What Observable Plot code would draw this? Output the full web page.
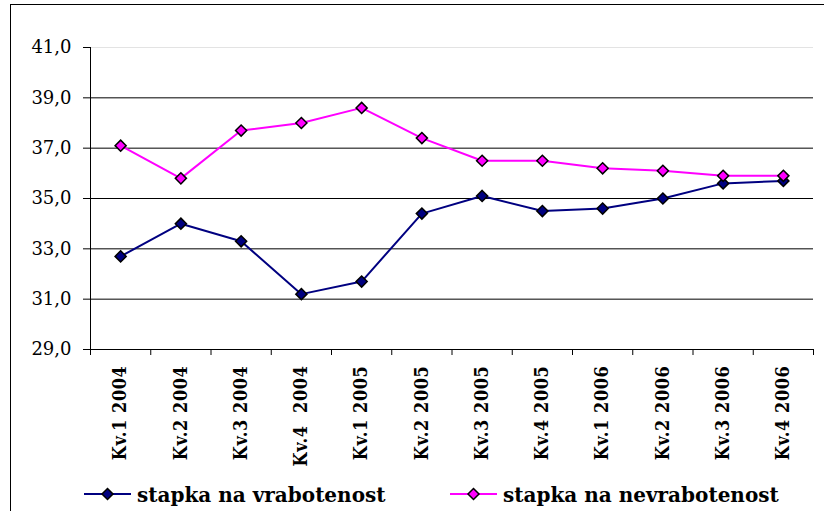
<!DOCTYPE html>
<html><head><meta charset="utf-8">
<script src="https://cdn.jsdelivr.net/npm/d3@7"></script>
<script src="https://cdn.jsdelivr.net/npm/@observablehq/plot@0.6"></script>
<style>
html,body{margin:0;padding:0;background:#fff;overflow:hidden}
#wrap{position:relative;width:824px;height:511px;overflow:hidden;background:#fff}
#border{position:absolute;left:10px;top:4px;width:840px;height:540px;border:1.5px solid #000;box-sizing:border-box}
#chart{position:absolute;left:0;top:0}
#legend{position:absolute;left:0;top:480px}
svg text{font-family:"DejaVu Serif",serif !important}
g[aria-label="x-axis tick label"] text{font-family:"DejaVu Serif Condensed","DejaVu Serif",serif !important;font-stretch:condensed;letter-spacing:0.6px}
</style></head><body>
<div id="wrap"><div id="border"></div><div id="chart"></div><div id="legend"></div></div>
<script>
const categories = ["Kv.1 2004","Kv.2 2004","Kv.3 2004","Kv.4  2004","Kv.1 2005","Kv.2 2005","Kv.3 2005","Kv.4 2005","Kv.1 2006","Kv.2 2006","Kv.3 2006","Kv.4 2006"];
const employment = [32.7, 34.0, 33.3, 31.2, 31.7, 34.4, 35.1, 34.5, 34.6, 35.0, 35.6, 35.7];
const unemployment = [37.1, 35.8, 37.7, 38.0, 38.6, 37.4, 36.5, 36.5, 36.2, 36.1, 35.9, 35.9];
const yTicks = [29, 31, 33, 35, 37, 39, 41];
const seriesNames = ["stapka na vrabotenost", "stapka na nevrabotenost"];
const colors = ["#000080", "#FF00FF"];

const idx = categories.map((_, i) => i);
const boundaries = d3.range(categories.length + 1).map(i => i - 0.5);
const data = [
  ...employment.map((v, i) => ({i, v, s: seriesNames[0]})),
  ...unemployment.map((v, i) => ({i, v, s: seriesNames[1]}))
];
const fmt = d => d3.format(".1f")(d).replace(".", ",");
const yMin = yTicks[0], yMax = yTicks[yTicks.length - 1];

const chart = Plot.plot({
  width: 824, height: 470,
  marginLeft: 90, marginRight: 11, marginTop: 47, marginBottom: 121,
  style: {background: "transparent", overflow: "visible", color: "#000"},
  x: {domain: [-0.5, categories.length - 0.5]},
  y: {domain: [yMin, yMax]},
  color: {domain: seriesNames, range: colors},
  marks: [
    Plot.ruleY(yTicks.filter(t => t > yMin && t < yMax), {stroke: "#000", strokeWidth: 1}),
    Plot.ruleY([yMax], {stroke: "#e3e3e3", strokeWidth: 1}),
    Plot.axisY({ticks: yTicks, tickFormat: fmt, tickSize: 7, tickPadding: 12, fontSize: 18, label: null}),
    Plot.ruleX([-0.5], {y1: yMin, y2: yMax, stroke: "#000"}),
    Plot.ruleY([yMin], {stroke: "#000"}),
    Plot.axisX({ticks: boundaries, tickFormat: () => "", tickSize: 6, label: null}),
    Plot.axisX({ticks: idx, tickFormat: i => categories[i], tickSize: 0, tickPadding: 16, tickRotate: -90, fontSize: 18, fontWeight: "bold", label: null}),
    Plot.line(data, {x: "i", y: "v", stroke: "s", strokeWidth: 2}),
    Plot.dot(data, {x: "i", y: "v", fill: "s", stroke: "#000", strokeWidth: 1.5, r: 5, symbol: "diamond2"})
  ]
});
document.getElementById("chart").appendChild(chart);

// legend
const legendX = [84, 450];
const ns = "http://www.w3.org/2000/svg";
const lsvg = document.createElementNS(ns, "svg");
lsvg.setAttribute("width", 824); lsvg.setAttribute("height", 31);
seriesNames.forEach((name, k) => {
  const x0 = legendX[k];
  const line = document.createElementNS(ns, "line");
  line.setAttribute("x1", x0); line.setAttribute("x2", x0 + 47);
  line.setAttribute("y1", 14); line.setAttribute("y2", 14);
  line.setAttribute("stroke", colors[k]); line.setAttribute("stroke-width", 2);
  lsvg.appendChild(line);
  const cx = x0 + 23.5, cy = 14, r = 5.5;
  const dia = document.createElementNS(ns, "polygon");
  dia.setAttribute("points", `${cx},${cy - r} ${cx + r},${cy} ${cx},${cy + r} ${cx - r},${cy}`);
  dia.setAttribute("fill", colors[k]); dia.setAttribute("stroke", "#000"); dia.setAttribute("stroke-width", 1.5);
  lsvg.appendChild(dia);
  const t = document.createElementNS(ns, "text");
  t.setAttribute("x", x0 + 53); t.setAttribute("y", 22);
  t.setAttribute("font-weight", "bold"); t.setAttribute("font-size", 20);
  t.textContent = name;
  lsvg.appendChild(t);
});
document.getElementById("legend").appendChild(lsvg);
</script>
</body></html>
